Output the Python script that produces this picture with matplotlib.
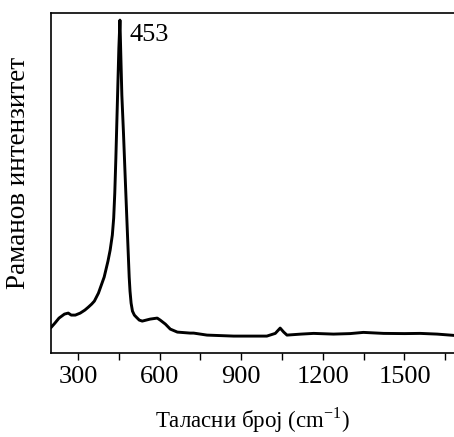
import numpy as np
import matplotlib.pyplot as plt

# Raman spectrum (intensity in arbitrary units)
wavenumber = [202, 215, 230, 250, 264, 275, 290, 308, 325, 338, 350, 360, 375,
              396, 410, 418, 426, 431, 435, 439, 443, 447, 450, 454, 457, 461,
              467, 473, 480, 484, 488, 491, 495, 500, 507, 514, 525, 536, 565,
              591, 602, 621, 639, 665, 712, 725, 774, 872, 994, 1025, 1043,
              1056, 1068, 1120, 1166, 1239, 1300, 1349, 1423, 1500, 1558, 1620,
              1682]
intensity = [26, 30, 35, 39, 40, 38, 38, 40, 43, 46, 49, 52, 60,
             76, 92, 103, 118, 135, 160, 195, 235, 275, 305, 333, 300, 258,
             220, 178, 130, 103, 76, 62, 50, 42, 38, 36, 33, 32, 34,
             35, 33, 29, 24, 21, 20, 20, 18, 17, 17, 19.7, 25,
             21, 18, 19, 19.7, 19, 19.5, 20.7, 19.7, 19.5, 19.7, 19,
             17.7]

xticks = [300, 600, 900, 1200, 1500]
peak_label = '453'

plt.rcParams['font.family'] = ['Liberation Serif', 'DejaVu Serif']
plt.rcParams['mathtext.fontset'] = 'custom'
plt.rcParams['mathtext.rm'] = 'Liberation Serif'

fig = plt.figure(figsize=(4.54, 4.37), dpi=100)
ax = fig.add_axes([0.112, 0.192, 0.888, 0.778])

ax.plot(wavenumber, intensity, color='black', lw=2.1)
ax.text(490, 318, peak_label, fontsize=19, va='center', ha='left')

ax.set_xlim(200, 1682)
ax.set_ylim(0, 340)
ax.set_xticks(xticks)
ax.set_xticks(np.arange(450, 1700, 300), minor=True)
ax.set_yticks([])
ax.tick_params(axis='x', which='both', direction='out', length=5, width=1,
               labelsize=19, pad=4)
ax.spines['right'].set_visible(False)
for s in ['left', 'top', 'bottom']:
    ax.spines[s].set_linewidth(1.2)

ax.set_xlabel('Таласни број (cm$^{-1}$)', fontsize=16.5, labelpad=13)
ax.set_ylabel('Раманов интензитет', fontsize=19.5)
ax.yaxis.set_label_coords(-0.05, 0.53)

fig.savefig('out.png', dpi=100)
